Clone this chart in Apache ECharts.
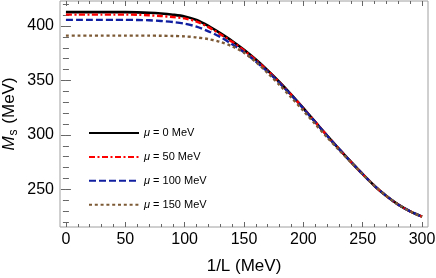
<!DOCTYPE html>
<html>
<head>
<meta charset="utf-8">
<script src="https://cdn.jsdelivr.net/npm/echarts@6/dist/echarts.min.js"></script>
<style>
html,body{margin:0;padding:0;background:#fff;}
#c{width:436px;height:278px;}
</style>
</head>
<body>
<div id="c"></div>
<script>
const xValues = [0,10,20,30,40,50,60,70,80,90,100,110,120,130,140,150,160,170,180,190,200,210,220,230,240,250,260,270,280,290,300];
const ms_mu0 = [412.8,412.8,412.8,412.8,412.8,412.8,412.6,412.2,411.5,410.4,408.8,405.6,400.2,393.5,386.3,378.2,369.2,359.2,348.4,336.8,324.6,312.0,299.4,287.2,275.4,264.0,253.2,243.9,236.0,229.8,225.0];
const ms_mu50 = [410.5,410.5,410.5,410.5,410.5,410.5,410.4,409.9,409.2,408.3,407.0,404.1,399.0,392.5,385.5,377.6,368.7,358.8,348.1,336.6,324.5,312.0,299.4,287.2,275.4,264.0,253.2,243.9,236.0,229.8,225.0];
const ms_mu100 = [405.7,405.7,405.7,405.7,405.7,405.7,405.6,405.3,404.7,403.7,402.2,399.5,395.2,390.0,383.3,375.9,367.5,358.0,347.6,336.3,324.3,311.8,299.3,287.2,275.4,264.0,253.2,243.9,236.0,229.8,225.0];
const ms_mu150 = [391.2,391.2,391.2,391.2,391.2,391.2,391.2,391.2,391.1,390.9,390.5,389.6,388.0,385.4,381.4,375.6,367.0,356.8,345.8,334.2,322.2,310.0,297.8,286.2,275.0,263.8,253.2,243.9,236.0,229.8,225.0];
const seriesNames = ['μ = 0 MeV','μ = 50 MeV','μ = 100 MeV','μ = 150 MeV'];
const xTickLabels = [0,50,100,150,200,250,300];
const xMinorTicks = [10,20,30,40,60,70,80,90,110,120,130,140,160,170,180,190,210,220,230,240,260,270,280,290];
const yTickLabels = [250,300,350,400];
const yMinorTicks = [220,230,240,260,270,280,290,310,320,330,340,360,370,380,390,410,420];

const FONT = '"Liberation Sans", Arial, sans-serif';
const chart = echarts.init(document.getElementById('c'));
const pairs = ys => xValues.map((x,i)=>[x, ys[i]]);

function xAx(pos, vals, len, withLabel, extra){
  return Object.assign({
    type:'value', position:pos, min:-5, max:305, gridIndex:0,
    axisLine:{show:false}, splitLine:{show:false}, nameMoveOverlap:false,
    axisTick:{show:true, inside:true, length:len, customValues:vals, lineStyle:{color:'#666', width:1}},
    axisLabel:{show:withLabel, customValues:vals, color:'#000', fontSize:16, fontFamily:FONT, margin:5}
  }, extra||{});
}
function yAx(pos, vals, len, withLabel, extra){
  return Object.assign({
    type:'value', position:pos, min:215.5, max:423, gridIndex:0,
    axisLine:{show:false}, splitLine:{show:false}, nameMoveOverlap:false,
    axisTick:{show:true, inside:true, length:len, customValues:vals, lineStyle:{color:'#666', width:1}},
    axisLabel:{show:withLabel, customValues:vals, color:'#000', fontSize:16, fontFamily:FONT, margin:6}
  }, extra||{});
}

const lineStyles = [
  {color:'#000000', width:2.6, type:'solid'},
  {color:'#ff0000', width:2.4, type:[6,2.5,2,2.5]},
  {color:'#101ea0', width:2.4, type:[7,3]},
  {color:'#7d5a36', width:2.4, type:[3,2.8]}
];
const datas = [ms_mu0, ms_mu50, ms_mu100, ms_mu150];

chart.setOption({
  animation:false,
  textStyle:{fontFamily:FONT},
  grid:{left:60, right:8, top:1, bottom:51, show:true, borderColor:'#a0a0a0', borderWidth:1,
        backgroundColor:'transparent', containLabel:false, outerBoundsMode:'none'},
  xAxis:[
    xAx('bottom', xTickLabels, 5, true, {
      name:'1/L (MeV)', nameLocation:'middle', nameGap:31,
      nameTextStyle:{color:'#000', fontSize:17, fontFamily:FONT}
    }),
    xAx('bottom', xMinorTicks, 3, false),
    xAx('top', xTickLabels, 5, false),
    xAx('top', xMinorTicks, 3, false)
  ],
  yAxis:[
    yAx('left', yTickLabels, 5, true, {
      name:'{m|M}{s|s} (MeV)', nameLocation:'middle', nameGap:40, nameRotate:90,
      nameTextStyle:{color:'#000', fontSize:17, fontFamily:FONT,
        rich:{
          m:{fontStyle:'italic', fontSize:17, color:'#000', fontFamily:FONT},
          s:{fontSize:12, color:'#000', fontFamily:FONT, padding:[9,1,0,1]}
        }}
    }),
    yAx('left', yMinorTicks, 3, false),
    yAx('right', yTickLabels, 5, false),
    yAx('right', yMinorTicks, 3, false)
  ],
  legend:{
    orient:'vertical', left:83, top:121,
    itemWidth:50, itemHeight:14, itemGap:9.9,
    data:seriesNames,
    itemStyle:{opacity:0},
    formatter: n => n.replace('μ','{i|μ}'),
    textStyle:{fontSize:11, color:'#000', fontFamily:FONT, lineHeight:14,
      rich:{i:{fontStyle:'italic', fontSize:11, color:'#000', fontFamily:FONT, lineHeight:14}}}
  },
  series: datas.map((d,i)=>({
    name:seriesNames[i], type:'line', xAxisIndex:0, yAxisIndex:0,
    data:pairs(d), smooth:0.3, symbol:'none', showSymbol:false,
    lineStyle:lineStyles[i], itemStyle:{color:lineStyles[i].color},
    z:2+i
  }))
});
</script>
</body>
</html>
